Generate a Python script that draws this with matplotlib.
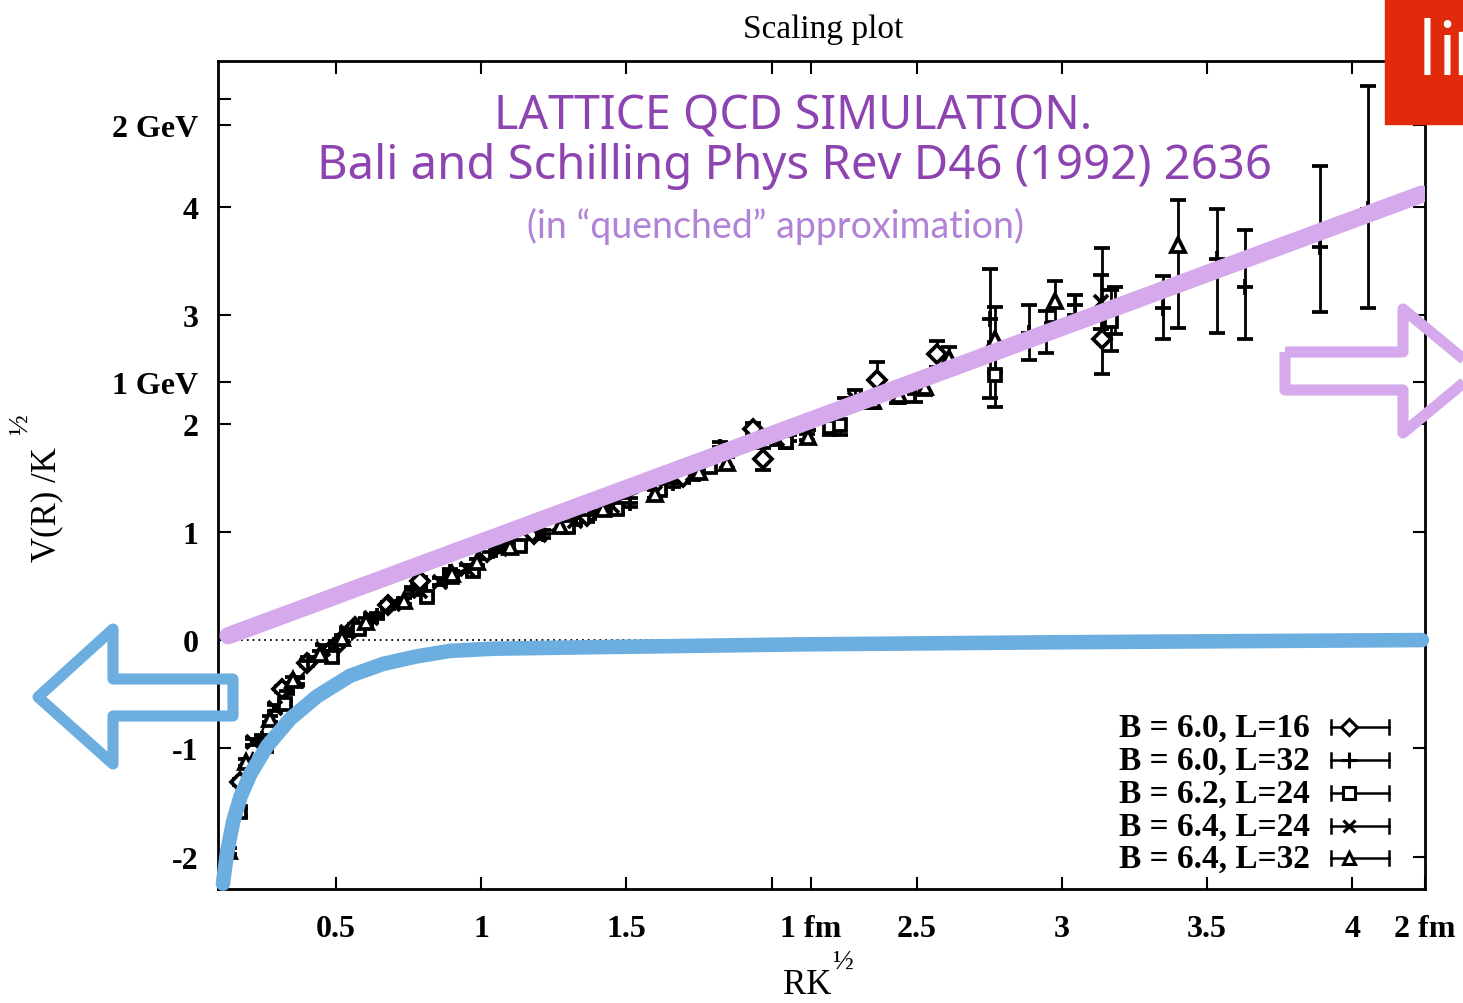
import matplotlib
matplotlib.use('Agg')
import matplotlib.pyplot as plt
from matplotlib.patches import Polygon, Rectangle
from matplotlib.lines import Line2D

# ---------------- data ----------------
# B = 6.0, L=16  (diamonds)
x_60_16 = [0.169, 0.314, 0.40, 0.514, 0.565, 0.68, 0.789, 1.02, 1.18, 1.364, 1.695, 1.936, 1.97,
           2.363, 2.57, 3.14]
y_60_16 = [-1.31, -0.45, -0.21, -0.02, 0.12, 0.32, 0.545, 0.81, 0.98, 1.145, 1.505, 1.95, 1.67,
           2.40, 2.64, 2.78]
lo_60_16 = [0.03, 0.03, 0.03, 0.03, 0.03, 0.03, 0.04, 0.04, 0.04, 0.05, 0.05, 0.06, 0.10,
            0.17, 0.12, 0.32]
hi_60_16 = [0.03, 0.03, 0.03, 0.03, 0.03, 0.03, 0.04, 0.04, 0.04, 0.05, 0.05, 0.06, 0.10,
            0.17, 0.12, 0.84]

# B = 6.0, L=32  (plus)
x_60_32 = [0.111, 0.245, 0.33, 0.403, 0.50, 0.641, 0.76, 0.892, 1.03, 1.213, 1.37, 1.513, 1.66,
           1.822, 2.06, 2.122, 2.253, 2.432, 2.494,
           2.752, 2.887, 2.946, 3.045, 3.183, 3.35, 3.535, 3.632, 3.89, 4.055]
y_60_32 = [-2.05, -0.91, -0.47, -0.19, -0.04, 0.22, 0.46, 0.63, 0.81, 0.98, 1.16, 1.27, 1.45,
           1.78, 1.89, 1.90, 2.18, 2.25, 2.27,
           2.97, 2.84, 2.87, 3.10, 3.06, 3.07, 3.52, 3.26, 3.63, 3.98]
lo_60_32 = [0.03, 0.03, 0.03, 0.03, 0.03, 0.03, 0.03, 0.03, 0.03, 0.04, 0.04, 0.04, 0.04,
            0.05, 0.05, 0.05, 0.06, 0.06, 0.07,
            0.73, 0.25, 0.22, 0.10, 0.23, 0.29, 0.68, 0.48, 0.60, 0.91]
hi_60_32 = [0.03, 0.03, 0.03, 0.03, 0.03, 0.03, 0.03, 0.03, 0.03, 0.04, 0.04, 0.04, 0.04,
            0.05, 0.05, 0.05, 0.06, 0.06, 0.07,
            0.46, 0.26, 0.17, 0.09, 0.20, 0.29, 0.46, 0.53, 0.75, 1.14]

# B = 6.2, L=24  (squares)
x_62_24 = [0.169, 0.26, 0.324, 0.486, 0.58, 0.813, 0.90, 0.971, 1.133, 1.299, 1.467, 1.615, 1.787,
           2.05, 2.20, 2.236, 2.77, 3.17]
y_62_24 = [-1.59, -0.98, -0.59, -0.16, 0.10, 0.40, 0.58, 0.64, 0.87, 1.04, 1.21, 1.39, 1.60,
           1.83, 1.97, 1.99, 2.45, 2.95]
e_62_24 = [0.04, 0.03, 0.03, 0.03, 0.03, 0.03, 0.03, 0.03, 0.03, 0.04, 0.04, 0.04, 0.05,
           0.06, 0.08, 0.10, 0.30, 0.28]

# B = 6.4, L=24  (crosses)
x_64_24 = [0.214, 0.29, 0.365, 0.455, 0.538, 0.62, 0.696, 0.79, 0.858, 0.95, 1.064, 1.20, 1.323,
           1.45, 1.60, 1.73, 2.019, 2.288, 3.135]
y_64_24 = [-0.94, -0.63, -0.38, -0.08, 0.07, 0.20, 0.33, 0.45, 0.54, 0.66, 0.84, 0.97, 1.10,
           1.24, 1.36, 1.53, 1.86, 2.23, 3.12]
e_64_24 = [0.03, 0.03, 0.03, 0.03, 0.03, 0.03, 0.03, 0.03, 0.03, 0.03, 0.03, 0.04, 0.04,
           0.04, 0.05, 0.05, 0.06, 0.08, 0.25]

# B = 6.4, L=32  (triangles)
x_64_32 = [0.13, 0.19, 0.272, 0.35, 0.444, 0.52, 0.604, 0.735, 0.90, 0.986, 1.10, 1.27, 1.42,
           1.598, 1.75, 1.847, 2.125, 2.35, 2.44, 2.528, 2.61, 2.77, 2.976, 3.40]
y_64_32 = [-1.95, -1.13, -0.73, -0.37, -0.13, 0.02, 0.17, 0.36, 0.61, 0.72, 0.86, 1.05, 1.21,
           1.35, 1.55, 1.64, 1.88, 2.21, 2.26, 2.34, 2.61, 2.78, 3.13, 3.65]
lo_64_32 = [0.03, 0.03, 0.03, 0.03, 0.03, 0.03, 0.03, 0.03, 0.03, 0.03, 0.03, 0.04, 0.04,
            0.04, 0.05, 0.05, 0.06, 0.07, 0.07, 0.08, 0.10, 0.30, 0.19, 0.77]
hi_64_32 = [0.03, 0.03, 0.03, 0.03, 0.03, 0.03, 0.03, 0.03, 0.03, 0.03, 0.03, 0.04, 0.04,
            0.04, 0.05, 0.05, 0.06, 0.07, 0.07, 0.08, 0.10, 0.30, 0.19, 0.42]

# dashed fit curve
fit_x = [0.11, 0.13, 0.15, 0.175, 0.2, 0.25, 0.3, 0.4, 0.5, 0.6, 0.8, 1.0, 1.5, 2.0, 2.5, 3.0, 3.5, 4.0, 4.25]
fit_y = [-2.28, -1.90, -1.61, -1.33, -1.12, -0.81, -0.58, -0.27, -0.03, 0.15, 0.46, 0.73, 1.32, 1.86,
         2.39, 2.90, 3.42, 3.92, 4.18]

# hand-drawn overlays: linear (purple) and Coulomb (blue) parts
lin_x = [0.128, 4.24]
lin_y = [0.04, 4.12]
coul_x = [0.110, 0.125, 0.145, 0.17, 0.204, 0.262, 0.341, 0.434, 0.548, 0.662, 0.779, 0.892, 1.04,
          1.41, 2.10, 3.0, 4.24]
coul_y = [-2.25, -1.95, -1.68, -1.45, -1.24, -0.98, -0.73, -0.52, -0.33, -0.22, -0.15, -0.10, -0.08,
          -0.065, -0.04, -0.02, 0.0]

legend_labels = ['B = 6.0, L=16', 'B = 6.0, L=32', 'B = 6.2, L=24', 'B = 6.4, L=24', 'B = 6.4, L=32']
xtick_vals = [0.5, 1.0, 1.5, 2.0, 2.136, 2.5, 3.0, 3.5, 4.0, 4.25]
xtick_labels = ['0.5', '1', '1.5', '', '1 fm', '2.5', '3', '3.5', '4', '2 fm']
ytick_vals = [-2, -1, 0, 1, 2, 2.38, 3, 4, 4.755, 5]
ytick_labels = ['-2', '-1', '0', '1', '2', '1 GeV', '3', '4', '2 GeV', '']

# ---------------- figure ----------------
W, H = 1463, 1004
SERIF = 'Liberation Serif'
fig = plt.figure(figsize=(W / 100, H / 100), dpi=100)
ax = fig.add_axes([218 / W, 1 - 890 / H, (1425 - 218) / W, (890 - 62) / H])
ax.set_xlim(0.093, 4.251)
ax.set_ylim(-2.30, 5.35)

for s in ax.spines.values():
    s.set_linewidth(2.0)

ax.set_xticks(xtick_vals)
ax.set_xticklabels(xtick_labels)
ax.set_yticks(ytick_vals)
ax.set_yticklabels(ytick_labels)
ax.tick_params(direction='in', length=9, width=1.5, top=True, right=True, labelsize=23)
ax.tick_params(axis='x', pad=18)
ax.tick_params(axis='y', pad=14)
for lab in ax.get_xticklabels() + ax.get_yticklabels():
    lab.set_fontfamily(SERIF)
    lab.set_fontweight('bold')

ax.axhline(0, color='black', lw=1.3, ls=(0, (1, 2.2)), zorder=1)

ax.plot(fit_x, fit_y, color='black', lw=1.6, ls=(0, (4, 2.5)), zorder=2)

common = dict(ecolor='black', elinewidth=2.0, capsize=6, capthick=2.0, mec='black',
              mfc='white', mew=2.7, zorder=3, ls='none')
ax.errorbar(x_60_16, y_60_16, yerr=[lo_60_16, hi_60_16], fmt='D', ms=9, **common)
ax.errorbar(x_60_32, y_60_32, yerr=[lo_60_32, hi_60_32], fmt='+', ms=12, **common)
ax.errorbar(x_62_24, y_62_24, yerr=e_62_24, fmt='s', ms=9, **common)
ax.errorbar(x_64_24, y_64_24, yerr=e_64_24, fmt='x', ms=10, **common)
ax.errorbar(x_64_32, y_64_32, yerr=[lo_64_32, hi_64_32], fmt='^', ms=10, **common)

# overlays
ax.plot(lin_x, lin_y, color='#D5A9EB', lw=12.5, solid_capstyle='round', zorder=5)
ax.plot(coul_x, coul_y, color='#6DAEE0', lw=10.5, solid_capstyle='round', zorder=5, clip_on=False)

# legend (gnuplot style)
def ax_xy(px, py):
    return (px - 218) / (1425 - 218), (890 - py) / (890 - 62)

markers = [('D', 8), ('+', 12), ('s', 8), ('x', 9), ('^', 9)]
rows = [728, 761, 794, 827, 859]
for lab, (m, ms), py in zip(legend_labels, markers, rows):
    tx, ty = ax_xy(1310, py)
    ax.text(tx, ty, lab, transform=ax.transAxes, ha='right', va='center',
            fontsize=24, family=SERIF, fontweight='bold', zorder=6)
    x0, yy = ax_xy(1331, py)
    x1, _ = ax_xy(1389, py)
    xm, _ = ax_xy(1349, py)
    _, yt = ax_xy(0, py - 7)
    _, yb = ax_xy(0, py + 7)
    ax.add_line(Line2D([x0, x1], [yy, yy], transform=ax.transAxes, color='black', lw=1.8, zorder=6))
    ax.add_line(Line2D([x0, x0], [yb, yt], transform=ax.transAxes, color='black', lw=1.8, zorder=6))
    ax.add_line(Line2D([x1, x1], [yb, yt], transform=ax.transAxes, color='black', lw=1.8, zorder=6))
    ax.add_line(Line2D([xm], [yy], transform=ax.transAxes, marker=m, ms=ms, mew=2.2,
                       mec='black', mfc='white', color='black', zorder=7))

# titles / labels
def f(px, py):
    return px / W, 1 - py / H

fig.text(*f(823, 30), 'Scaling plot', ha='center', va='center', fontsize=24, family=SERIF)
fig.text(*f(807, 986), 'RK', ha='center', va='center', fontsize=25, family=SERIF)
fig.text(*f(842, 962), '\u00bd', ha='center', va='center', fontsize=20, family=SERIF)
fig.text(*f(47, 505), 'V(R) /K', ha='center', va='center', fontsize=25, family=SERIF, rotation=90)
fig.text(*f(20, 425), '\u00bd', ha='center', va='center', fontsize=20, family=SERIF, rotation=90)

PURPLE = '#8E44B0'
fig.text(*f(793, 117), 'LATTICE QCD SIMULATION.', ha='center', va='center', fontsize=33.5,
         family='Noto Sans', color=PURPLE)
fig.text(*f(794, 167), 'Bali and Schilling Phys Rev D46 (1992) 2636', ha='center', va='center',
         fontsize=34, family='Noto Sans', color=PURPLE)
fig.text(*f(776, 226), '(in \u201cquenched\u201d approximation)', ha='center', va='center',
         fontsize=27, family='Lato', color='#B183D6')

# hand-drawn arrows
def poly(pts, color):
    p = Polygon([f(px, py) for px, py in pts], closed=True, fill=False, edgecolor=color,
                lw=8, joinstyle='round', transform=fig.transFigure, zorder=8)
    fig.add_artist(p)

poly([(233, 680), (113, 680), (113, 630), (38, 698), (113, 765), (113, 717), (233, 717)], '#6DAEE0')
poly([(1285, 353), (1403, 353), (1403, 310), (1478, 372), (1403, 434), (1403, 391), (1285, 391)],
     '#D5A9EB')

# red badge
fig.add_artist(Rectangle(f(1385, 125), (W - 1385) / W + 0.01, 125 / H + 0.01,
                         transform=fig.transFigure, color='#E12A0B', zorder=9))
fig.text(*f(1418, 75), 'l', color='white', fontsize=54, family='Open Sans', va='baseline',
         ha='left', zorder=10)
fig.text(*f(1437, 75), 'i', color='white', fontsize=54, family='Open Sans', va='baseline',
         ha='left', zorder=10)
fig.add_artist(Rectangle(f(1459, 75), 6 / W, 42 / H, transform=fig.transFigure,
                         color='white', zorder=10))

fig.savefig('out.png', dpi=100)
